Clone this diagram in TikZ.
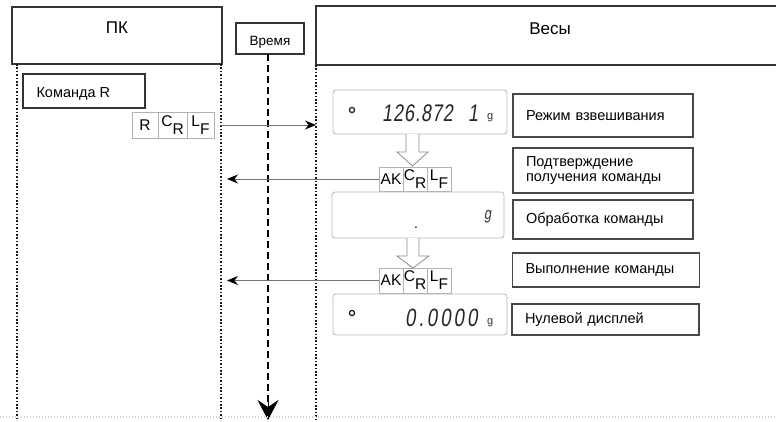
\documentclass[tikz,border=0pt]{standalone}
\usepackage{fontspec}
\setmainfont{Liberation Sans}
\newfontfamily\segfont[FakeSlant=0.14,FakeStretch=0.75,LetterSpace=4]{Liberation Sans}
\usetikzlibrary{arrows.meta}
\begin{document}
\begin{tikzpicture}[x=1pt,y=-1pt,
  mainbox/.style={draw=black!80,line width=1.3pt,inner sep=0pt},
  lbl/.style={draw=black!72,line width=1.2pt,fill=white,text width=154pt,inner xsep=13pt,inner ysep=0pt,align=left,font=\fontsize{14.5}{15}\selectfont},
  lblw/.style={lbl,text width=161pt},
  disp/.style={draw=black!28,line width=0.8pt,rounded corners=3pt,fill=white,inner sep=0pt},
  cell/.style={draw=black!30,line width=0.7pt,fill=white,inner sep=0pt,minimum height=26pt,font=\fontsize{15.5}{15.5}\selectfont},
  lifeline/.style={black!90,line width=1.7pt,dash pattern=on 1.6pt off 1.8pt},
  timeline/.style={black,line width=1.6pt,dash pattern=on 7pt off 4pt},
  msg/.style={black!55,line width=0.9pt,-{Stealth[length=11pt,width=9pt,black]}},
  hollow/.style={draw=black!45,line width=0.8pt,fill=white},
  seg/.style={font=\segfont\fontsize{24}{24}\selectfont,inner sep=0pt,text=black!85}
]
\useasboundingbox (0,0) rectangle (776,421);
\clip (0,0) rectangle (776,421);
\fill[white] (0,0) rectangle (776,421);

% header boxes
\node[mainbox,minimum width=210pt,minimum height=57pt] (pc) at (117,35.5) {};
\node[font=\fontsize{17}{17}\selectfont] (pct) at (117,28) {ПК};
\node[mainbox,minimum width=470pt,minimum height=59pt] (sc) at (551,35.5) {};
\node[font=\fontsize{17}{17}\selectfont] (sct) at (550,29) {Весы};
\node[mainbox,line width=1.1pt,minimum width=68pt,minimum height=31pt] (tm) at (270,38.5) {};
\node[font=\fontsize{13.5}{13.5}\selectfont] (tmt) at (270,42) {Время};

% lifelines
\coordinate (pcL) at (17,64);
\coordinate (pcR) at (221,64);
\coordinate (scL) at (316,65);
\draw[lifeline] (pcL) -- (17,421);
\draw[lifeline] (pcR) -- (221,421);
\draw[lifeline] (scL) -- (316,421);
\coordinate (tmEnd) at (268,420);
\draw[timeline] (268,54) -- (268,402);
\draw[black,line width=1pt,-{Stealth[length=20pt,width=21pt,inset=7pt]}] (268,399) -- (tmEnd);
\draw[black!18,line width=1.3pt,dash pattern=on 1.3pt off 1.7pt] (0,417) -- (776,417);

% PC command
\node[mainbox,line width=1.2pt,minimum width=122pt,minimum height=34pt] (cmd) at (84,91) {};
\node[font=\fontsize{14.5}{14.5}\selectfont,anchor=west] (cmdt) at (33,94) {Команда R};
\node[cell,minimum width=26pt] (r) at (145,125) {R};
\node[cell,minimum width=29pt] (cr) at (172.5,125) {\raisebox{4pt}{C}\raisebox{-4pt}{R}};
\node[cell,minimum width=27pt] (lf) at (200.5,125) {\raisebox{4pt}{L}\raisebox{-4pt}{F}};
\coordinate (m1s) at (pcR |- lf.center);
\coordinate (m1e) at (scL |- lf.center);
\draw[msg] (m1s) -- (m1e);

% displays
\node[disp,minimum width=174pt,minimum height=44pt] (d1) at (420,112) {};
\draw[black!85,line width=1.3pt] (352,110) circle (2.6);
\node[seg,anchor=base west] (d1n) at (382,121) {126.872};
\node[seg,anchor=base west] (d1n2) at (468,121) {1};
\node[font=\fontsize{11}{11}\selectfont,anchor=base west,inner sep=0pt,text=black!80] (d1g) at (487,119) {g};

\node[lbl,minimum height=43pt] (l1) at (603,115.5) {Режим взвешивания};

\draw[hollow] (406,134) -- (406,152) -- (397,152) -- (412.5,166) -- (428,152) -- (419,152) -- (419,134);

\node[cell,minimum width=24pt,minimum height=24pt] (ak1) at (391,179) {\raisebox{-2pt}{AK}};
\node[cell,minimum width=24pt,minimum height=24pt] (cr1) at (415,179) {\raisebox{4pt}{C}\raisebox{-4pt}{R}};
\node[cell,minimum width=24pt,minimum height=24pt] (lf1) at (439,179) {\raisebox{4pt}{L}\raisebox{-4pt}{F}};
\coordinate (m2e) at (pcR |- ak1.center);
\draw[msg,shorten >=6pt] (ak1.west) -- (m2e);

\node[lbl,minimum height=45pt] (l2) at (603,170.5) {Подтверждение\\получения команды};

\node[disp,minimum width=172pt,minimum height=46pt] (d2) at (418,215) {};
\node[font=\fontsize{14}{14}\selectfont,anchor=base,inner sep=0pt] (d2p) at (416,228) {.};
\node[font=\segfont\fontsize{17}{17}\selectfont,anchor=base west,inner sep=0pt,text=black!80] (d2g) at (484,219) {g};

\node[lbl,minimum height=39pt] (l3) at (603,219.5) {Обработка команды};

\draw[hollow] (407,238) -- (407,256) -- (397,256) -- (413,268) -- (429,256) -- (419,256) -- (419,238);

\node[cell,minimum width=24pt,minimum height=25pt] (ak2) at (391,280.5) {\raisebox{-2pt}{AK}};
\node[cell,minimum width=24pt,minimum height=25pt] (cr2) at (415,280.5) {\raisebox{4pt}{C}\raisebox{-4pt}{R}};
\node[cell,minimum width=24pt,minimum height=25pt] (lf2) at (439,280.5) {\raisebox{4pt}{L}\raisebox{-4pt}{F}};
\coordinate (m3e) at (pcR |- ak2.center);
\draw[msg,shorten >=6pt] (ak2.west) -- (m3e);

\node[lblw,line width=1.4pt,minimum height=34pt] (l4) at (606,270) {Выполнение команды};

\node[disp,minimum width=174pt,minimum height=41pt] (d3) at (420,314.5) {};
\draw[black!85,line width=1.3pt] (352,313) circle (2.6);
\node[seg,anchor=base west,font=\segfont\fontsize{25}{25}\selectfont\addfontfeature{LetterSpace=12}] (d3n) at (405,326) {0.0000};
\node[font=\fontsize{11}{11}\selectfont,anchor=base west,inner sep=0pt,text=black!80] (d3g) at (487,324) {g};

\node[lblw,minimum height=31pt] (l5) at (605.5,319.5) {Нулевой дисплей};
\end{tikzpicture}
\end{document}
